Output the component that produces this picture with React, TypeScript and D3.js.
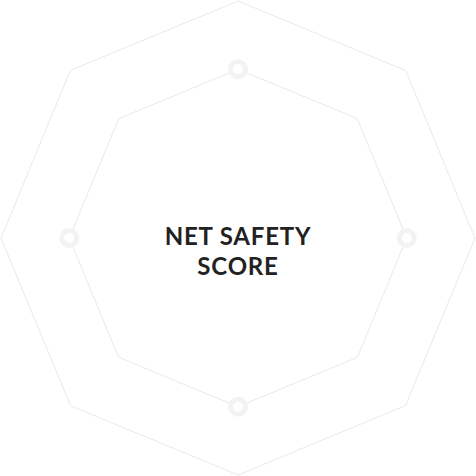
import React, { useRef, useEffect } from 'react';
import * as d3 from 'd3';

// 8 axes of the radar, grid levels and the plotted series
const axes = ['A1', 'A2', 'A3', 'A4', 'A5', 'A6', 'A7', 'A8'];
const levels = [0.712, 1];
const seriesAxes = ['A1', 'A3', 'A5', 'A7'];
const seriesValues = [0.712, 0.712, 0.712, 0.712];
const titleLines = ['NET SAFETY', 'SCORE'];

const App = () => {
  const svgRef = useRef<SVGSVGElement>(null);

  useEffect(() => {
    const svg = d3.select(svgRef.current);
    svg.selectAll('*').remove();

    const width = 476;
    const height = 476;
    const cx = 238;
    const cy = 238;
    const radius = 237;

    svg.attr('width', width).attr('height', height);

    const angle = d3.scaleBand<string>()
      .domain(axes)
      .range([0, 2 * Math.PI]);

    const r = d3.scaleLinear().domain([0, 1]).range([0, radius]);

    const g = svg.append('g').attr('transform', `translate(${cx},${cy})`);

    const line = d3.lineRadial<string>()
      .angle(d => angle(d)!)
      .curve(d3.curveLinearClosed);

    g.selectAll('path.grid')
      .data(levels)
      .join('path')
      .attr('class', 'grid')
      .attr('d', lv => line.radius(() => r(lv))(axes))
      .attr('fill', 'none')
      .attr('stroke', '#ede9e1')
      .attr('stroke-width', 1);

    g.selectAll('circle.pt')
      .data(seriesAxes)
      .join('circle')
      .attr('class', 'pt')
      .attr('cx', (d, i) => r(seriesValues[i]) * Math.sin(angle(d)!))
      .attr('cy', (d, i) => -r(seriesValues[i]) * Math.cos(angle(d)!))
      .attr('r', 7.5)
      .attr('fill', '#fff')
      .attr('stroke', '#f3f3f3')
      .attr('stroke-width', 5);

    g.append('text')
      .attr('text-anchor', 'middle')
      .attr('font-family', 'Lato, "Open Sans", sans-serif')
      .attr('font-weight', 700)
      .attr('font-size', 24)
      .attr('letter-spacing', 0.8)
      .attr('fill', '#222')
      .selectAll('tspan')
      .data(titleLines)
      .join('tspan')
      .attr('x', 0)
      .attr('y', (d, i) => 7 + i * 30)
      .text(d => d);
  }, []);

  return (
    <div style={{ position: 'absolute', left: 0, top: 0 }}>
      <svg ref={svgRef} style={{ display: 'block' }}></svg>
    </div>
  );
};

export default App;
